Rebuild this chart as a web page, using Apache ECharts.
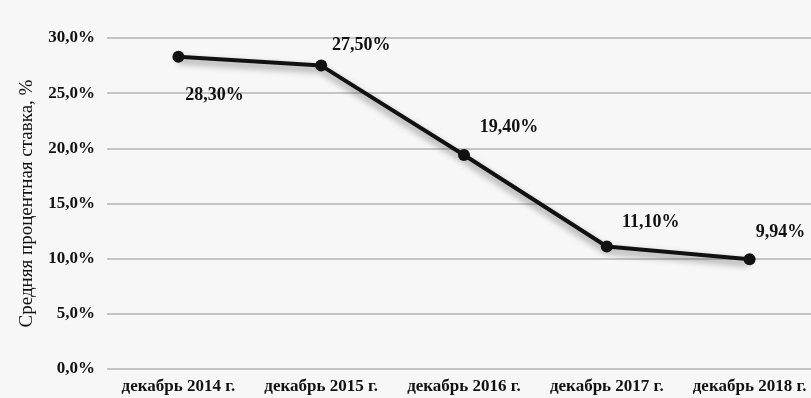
<!DOCTYPE html>
<html>
<head>
<meta charset="utf-8">
<script src="https://cdn.jsdelivr.net/npm/echarts@6/dist/echarts.min.js"></script>
<style>
  html, body { margin: 0; padding: 0; background: #f7f7f7; }
  #chart { width: 811px; height: 398px; }
</style>
</head>
<body>
<div id="chart"></div>
<script>
const categories = ['декабрь 2014 г.', 'декабрь 2015 г.', 'декабрь 2016 г.', 'декабрь 2017 г.', 'декабрь 2018 г.'];
const rates = [28.3, 27.5, 19.4, 11.1, 9.94];
// label offsets relative to each point
const labelOffsets = [[36, 39], [40, -20], [45, -28], [44, -24], [31, -27]];

const fmt = (v, d) => v.toFixed(d).replace('.', ',') + '%';
const serif = '"Liberation Serif", "DejaVu Serif", serif';

const chart = echarts.init(document.getElementById('chart'));

// the original plot area runs past the right edge of the picture,
// so x is a value axis over category indexes, cut at 4.43
chart.setOption({
  animation: false,
  backgroundColor: '#f7f7f7',
  grid: { left: 107, top: 38, bottom: 29, right: 0 },
  xAxis: {
    type: 'value',
    min: -0.5, max: 4.43,
    axisLine: { show: false },
    axisTick: { show: false },
    splitLine: { show: false },
    axisLabel: {
      customValues: categories.map((c, i) => i),
      formatter: v => categories[Math.round(v)],
      color: '#111', fontFamily: serif, fontWeight: 'bold', fontSize: 17, margin: 9
    }
  },
  yAxis: {
    type: 'value',
    min: 0, max: 30, interval: 5,
    name: 'Средняя процентная ставка, %',
    nameLocation: 'middle',
    nameGap: 70,
    nameTextStyle: { color: '#111', fontFamily: serif, fontSize: 19 },
    axisLine: { show: false },
    axisTick: { show: false },
    axisLabel: { color: '#111', fontFamily: serif, fontWeight: 'bold', fontSize: 17, margin: 12,
      formatter: v => fmt(v, 1) },
    splitLine: { lineStyle: { color: '#b4b4b4', width: 1.5 } }
  },
  series: [{
    type: 'line',
    data: rates.map((v, i) => ({
      value: [i, v],
      label: { offset: labelOffsets[i] }
    })),
    symbol: 'circle',
    symbolSize: 12,
    itemStyle: { color: '#111' },
    lineStyle: { color: '#111', width: 4, shadowColor: 'rgba(0,0,0,0.45)', shadowBlur: 7, shadowOffsetY: 4 },
    label: {
      show: true,
      position: 'inside',
      formatter: p => fmt(p.value[1], 2),
      color: '#111',
      fontFamily: serif,
      fontWeight: 'bold',
      fontSize: 18
    }
  }]
});
</script>
</body>
</html>
